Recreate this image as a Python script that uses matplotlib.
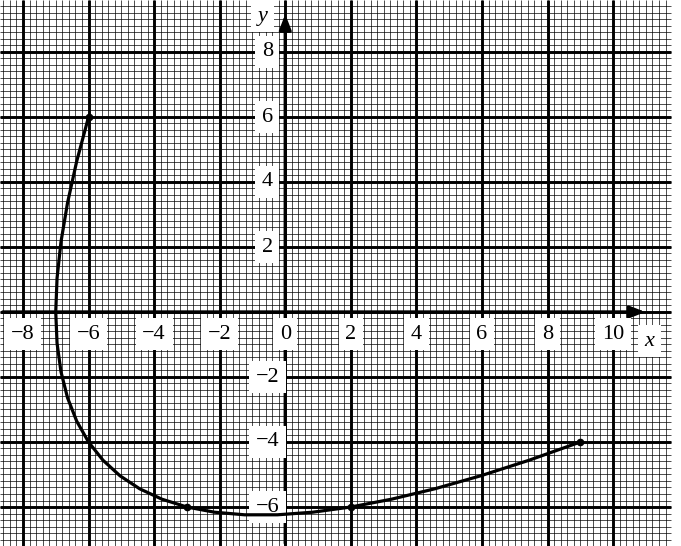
import numpy as np
import matplotlib
matplotlib.use('Agg')
import matplotlib.pyplot as plt

curve_x = [-6.00, -6.36, -6.64, -6.84, -6.96, -7.00, -6.96, -6.84, -6.64, -6.36,
           -6.00, -5.56, -5.04, -4.44, -3.76, -3.00, -2.16, -1.24, -0.24, 0.84,
           2.00, 3.24, 4.56, 5.96, 7.44, 9.00]
curve_y = [6.00, 4.64, 3.36, 2.16, 1.04, 0.00, -0.96, -1.84, -2.64, -3.36,
           -4.00, -4.56, -5.04, -5.44, -5.76, -6.00, -6.16, -6.24, -6.24, -6.16,
           -6.00, -5.76, -5.44, -5.04, -4.56, -4.00]

# puntos marcados
dot_x = [-6, -3, 2, 9]
dot_y = [6, -6, -6, -4]

x_ticks = [-8, -6, -4, -2, 0, 2, 4, 6, 8, 10]
y_ticks = [-6, -4, -2, 2, 4, 6, 8]

fig = plt.figure(figsize=(6.81, 5.46), dpi=100)
ax = fig.add_axes([0, 0, 1, 1])
ax.set_xlim(-8.7, 12.07)
ax.set_ylim(-7.2, 9.6)
ax.axis('off')

# papel milimetrado
px0, px1 = -8.7, 11.75
py0, py1 = -7.2, 9.6
fine = np.arange(-8.6, 11.7, 0.2)
ax.vlines(fine, py0, py1, color='black', lw=0.7, alpha=0.7, zorder=1)
fine_h = np.arange(-7.2, 9.6, 0.2)
ax.hlines(fine_h, px0, px1, color='black', lw=0.7, alpha=0.7, zorder=1)
ax.vlines(np.arange(-8, 12, 2), py0, py1, color='black', lw=2.1, zorder=2)
ax.hlines(np.arange(-6, 10, 2), px0, px1, color='black', lw=2.1, zorder=2)

# ejes con flechas
ax.annotate('', xy=(11.07, 0), xytext=(-8.7, 0),
            arrowprops=dict(arrowstyle='-|>,head_length=0.9,head_width=0.35',
                            color='black', lw=2.4), zorder=3)
ax.annotate('', xy=(0, 9.25), xytext=(0, -7.2),
            arrowprops=dict(arrowstyle='-|>,head_length=0.9,head_width=0.35',
                            color='black', lw=2.4), zorder=3)

box = dict(boxstyle='square,pad=0.3', fc='white', ec='none')
for t in x_ticks:
    ax.text(t, -0.68, f'{t}'.replace('-', '\u2212'), ha='center', va='center',
            fontsize=16, family='Liberation Serif', bbox=box, zorder=4)
for t in y_ticks:
    ax.text(-0.55, t, f'{t}'.replace('-', '\u2212'), ha='center', va='center',
            fontsize=16, family='Liberation Serif', bbox=box, zorder=4)
ax.text(11.1, -0.9, 'x', ha='center', va='center', fontsize=16,
        family='Liberation Serif', style='italic', bbox=box, zorder=4)
ax.text(-0.7, 9.1, 'y', ha='center', va='center', fontsize=16,
        family='Liberation Serif', style='italic', bbox=box, zorder=4)

ax.plot(curve_x, curve_y, color='black', lw=2.3, zorder=5,
        solid_capstyle='round', solid_joinstyle='round')
ax.plot(dot_x, dot_y, 'o', color='black', ms=4.5, zorder=6)

fig.savefig('out.png', dpi=100)
